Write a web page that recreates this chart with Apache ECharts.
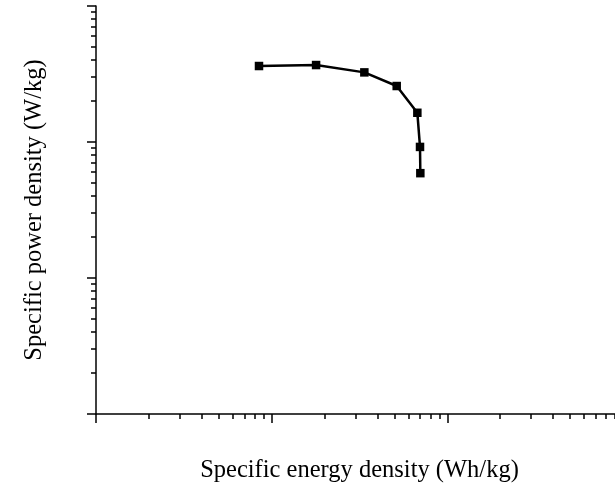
<!doctype html>
<html lang="en">
<head>
    <meta charset="UTF-8">
    <script src="https://cdn.jsdelivr.net/npm/echarts@6/dist/echarts.min.js"></script>
    <title>Ragone plot</title>
</head>
<body style="margin:0;overflow:hidden">
<!-- 8px wider than the window: the x axis runs past the right edge, as in the source figure -->
<div id="main" style="width: 623px;height:488px;"></div>
<script type="text/javascript">
    // energy density (Wh/kg) and power density (W/kg)
    var energy = [8.47, 17.9, 33.7, 51.5, 67.5, 69.9, 70.2];
    var power = [3620, 3680, 3250, 2580, 1640, 920, 590];
    var xName = 'Specific energy density (Wh/kg)';
    var yName = 'Specific power density (W/kg)';

    var points = [];
    for (var i = 0; i < energy.length; i++) {
        points.push([energy[i], power[i]]);
    }

    var myChart = echarts.init(document.getElementById('main'));

    var axisCommon = {
        type: 'log',
        logBase: 10,
        splitNumber: 3,
        nameLocation: 'middle',
        nameTextStyle: { fontFamily: 'Liberation Serif', fontSize: 24.5, color: '#000' },
        axisLine: { show: true, lineStyle: { color: '#000', width: 1.5 } },
        axisTick: { show: true, inside: false, length: 9, lineStyle: { color: '#000', width: 1.5 } },
        minorTick: { show: true, splitNumber: 9, length: 5, lineStyle: { color: '#000', width: 1.5 } },
        axisLabel: { show: false },
        splitLine: { show: false }
    };

    var option = {
        animation: false,
        grid: { left: 96, right: 0, top: 6, bottom: 74 },
        xAxis: Object.assign({}, axisCommon, {
            min: 1, max: 1000,
            name: xName,
            nameGap: 44
        }),
        yAxis: Object.assign({}, axisCommon, {
            min: 10, max: 10000,
            name: yName,
            nameGap: 49
        }),
        series: [{
            type: 'line',
            data: points,
            symbol: 'rect',
            symbolSize: 8.5,
            itemStyle: { color: '#000' },
            lineStyle: { color: '#000', width: 2.5 }
        }]
    };

    myChart.setOption(option);
</script>
</body>
</html>
